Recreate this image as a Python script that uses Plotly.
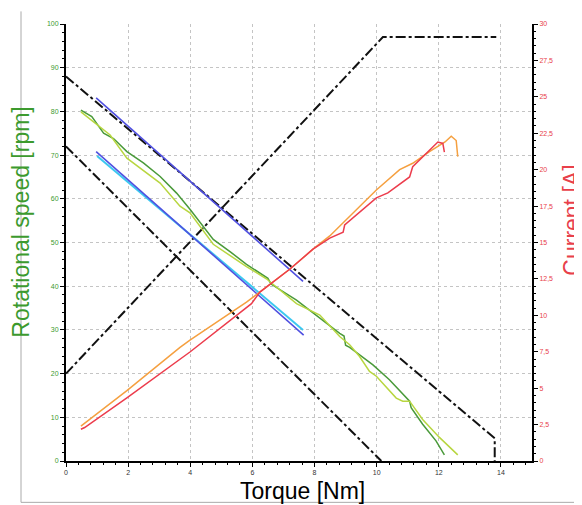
import plotly.graph_objects as go

# ---- data ----
black_upper_x = [0, 13.8, 13.8]
black_upper_y = [88, 5.2, 0]
black_lower_x = [0, 10.15]
black_lower_y = [72, 0]
black_rise_x = [0, 10.2, 13.85]
black_rise_y = [20, 97, 97]

blue_upper_x = [0.97, 7.63]
blue_upper_y = [83.1, 41.1]
blue_lower_x = [0.97, 7.65]
blue_lower_y = [70.8, 28.8]
cyan_x = [1.0, 7.63]
cyan_y = [69.8, 30.0]

green_x = [0.48, 0.83, 1.21, 1.53, 1.96, 2.49, 3.03, 3.56, 3.99, 4.74, 5.3, 5.81, 6.5, 6.6,
           7.42, 8.17, 8.81, 8.95, 9.0, 9.13, 9.88, 10.41, 10.74, 11.06, 11.11, 11.48, 11.91, 12.18]
green_y = [80.3, 78.8, 75.0, 73.8, 70.8, 68.2, 65.1, 61.3, 57.6, 50.7, 47.8, 45.0, 41.8, 40.5,
           36.8, 32.6, 29.2, 28.6, 26.5, 26.0, 22.0, 18.6, 16.0, 13.7, 12.2, 8.4, 4.6, 1.4]

lime_x = [0.48, 0.89, 1.42, 1.96, 3.03, 3.67, 3.99, 4.74, 5.81, 6.45, 7.42, 8.17, 8.81,
          9.13, 9.45, 9.77, 9.99, 10.63, 10.84, 11.06, 11.48, 12.02, 12.61]
lime_y = [79.9, 77.6, 74.6, 69.3, 63.6, 58.3, 56.8, 49.6, 44.5, 41.7, 36.0, 33.4, 28.5,
          26.6, 23.9, 20.5, 19.4, 14.4, 13.7, 13.7, 9.5, 5.4, 1.4]

orange_x = [0.48, 1.96, 3.67, 3.99, 5.81, 6.24, 7.21, 7.95, 8.49, 9.99, 10.74, 11.16, 11.7,
            12.2, 12.4, 12.56, 12.61]
orange_a = [2.40, 4.83, 7.8, 8.3, 10.9, 11.6, 13.18, 14.54, 15.45, 18.6, 20.0, 20.44, 21.24,
            21.9, 22.3, 22.0, 20.9]

red_x = [0.48, 0.6, 1.96, 4.0, 5.97, 6.24, 7.21, 7.95, 8.49, 8.92, 8.97, 9.99, 10.36, 11.06,
         11.16, 11.97, 12.13, 12.18]
red_a = [2.18, 2.3, 4.33, 7.5, 10.8, 11.6, 13.18, 14.54, 15.3, 15.7, 16.2, 18.06, 18.4, 19.5,
         20.2, 21.9, 21.8, 21.2]

x_ticks = [0, 2, 4, 6, 8, 10, 12, 14]
left_ticks = [0, 10, 20, 30, 40, 50, 60, 70, 80, 90, 100]
right_ticks = [0, 2.5, 5, 7.5, 10, 12.5, 15, 17.5, 20, 22.5, 25, 27.5, 30]

FONT = "Liberation Sans, Arial, sans-serif"
GREEN_T = "#3c9a2e"
RED_T = "#e8404a"
DASH = "10px,3px,3px,3px"

fig = go.Figure()

def add(x, y, color, width=1.5, dash=None, axis="y"):
    fig.add_trace(go.Scatter(x=x, y=y, mode="lines", yaxis=axis,
                             line=dict(color=color, width=width, dash=dash),
                             showlegend=False, hoverinfo="skip"))

add(black_upper_x, black_upper_y, "#111111", 2, DASH)
add(black_lower_x, black_lower_y, "#111111", 2, DASH)
add(black_rise_x, black_rise_y, "#111111", 2, DASH)
add(cyan_x, cyan_y, "#3cc8f0", 2)
add(blue_lower_x, blue_lower_y, "#5050e0", 1.6)
add(blue_upper_x, blue_upper_y, "#5050e0", 1.6)
add(green_x, green_y, "#4a9a3a", 1.5)
add(lime_x, lime_y, "#b8d640", 1.5)
add(orange_x, orange_a, "#f5a040", 1.5, axis="y2")
add(red_x, red_a, "#ec3c4c", 1.5, axis="y2")

grid = dict(showgrid=True, gridcolor="#c4c4c4", gridwidth=1, griddash="dot")

# page body has an 8px offset; plot area is placed so it lands at x 66..532, y 20..460
L, T = 58, 12
PW, PH = 466, 440.6
W, H = 582, 505

def px(xp):
    return (xp - 66) / PW

def py(yp):
    return (460.3 - yp) / PH

fig.update_layout(
    width=W, height=H,
    margin=dict(l=L, r=W - L - PW, t=T, b=H - T - PH),
    paper_bgcolor="white", plot_bgcolor="white",
    separators=",.",
    font=dict(family=FONT, size=8),
    xaxis=dict(range=[0, 15], tickvals=x_ticks, showline=True, linecolor="black",
               linewidth=2, ticks="outside", ticklen=4, tickcolor="black",
               tickfont=dict(size=7, color="#333333"), zeroline=False,
               minor=dict(dtick=0.4, ticks="outside", ticklen=2, tickcolor="black", showgrid=False),
               **grid),
    yaxis=dict(range=[0, 100], tickvals=left_ticks, showline=True, linecolor="black",
               linewidth=2, ticks="outside", ticklen=4, tickcolor="black",
               tickfont=dict(size=7, color=GREEN_T), zeroline=False,
               minor=dict(dtick=2, ticks="outside", ticklen=2, tickcolor="black", showgrid=False),
               **grid),
    yaxis2=dict(range=[0, 30], tickvals=right_ticks, overlaying="y", side="right",
                showline=True, linecolor="black", linewidth=2, ticks="outside", ticklen=4,
                tickcolor="black", tickfont=dict(size=7, color=RED_T), showgrid=False,
                zeroline=False,
                minor=dict(dtick=0.5, ticks="outside", ticklen=2, tickcolor="black")),
    annotations=[
        dict(text="Rotational speed [rpm]", xref="paper", yref="paper", x=px(21), y=py(220),
             textangle=-90, showarrow=False, xanchor="center", yanchor="middle",
             font=dict(size=23, color=GREEN_T, family=FONT)),
        dict(text="Current [A]", xref="paper", yref="paper", x=px(572), y=py(218),
             textangle=-90, showarrow=False, xanchor="center", yanchor="middle",
             font=dict(size=23, color=RED_T, family=FONT)),
        dict(text="Torque [Nm]", xref="paper", yref="paper", x=px(302), y=py(491),
             showarrow=False, xanchor="center", yanchor="middle",
             font=dict(size=23, color="black", family=FONT)),
    ],
    shapes=[
        dict(type="line", xref="paper", yref="paper", x0=px(21), x1=px(21),
             y0=py(7), y1=py(502), line=dict(color="#aaaaaa", width=1)),
        dict(type="line", xref="paper", yref="paper", x0=px(21), x1=px(582),
             y0=py(502), y1=py(502), line=dict(color="#aaaaaa", width=1)),
    ],
)

fig.write_html("out.html")
